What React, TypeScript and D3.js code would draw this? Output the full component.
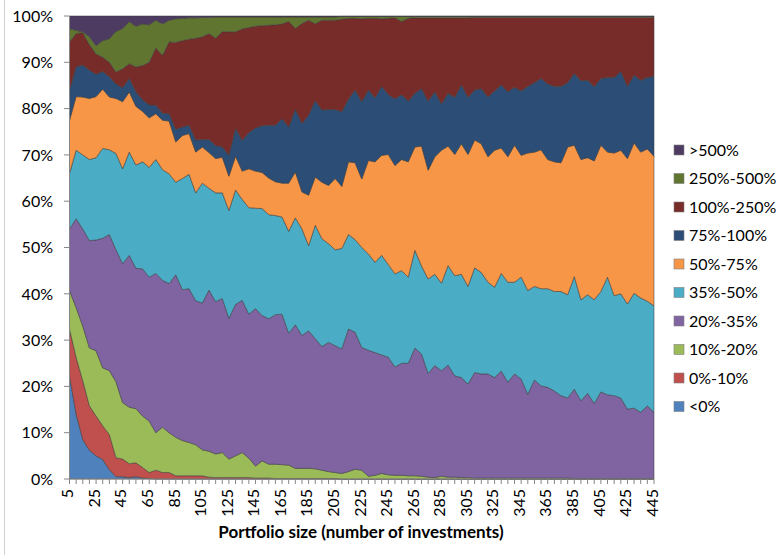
import React from 'react';
import * as d3 from 'd3';

// portfolio size categories (number of investments)
const portfolioSizes = [
  5, 10, 15, 20, 25, 30, 35, 40, 45, 50,
  55, 60, 65, 70, 75, 80, 85, 90, 95, 100,
  105, 110, 115, 120, 125, 130, 135, 140, 145, 150,
  155, 160, 165, 170, 175, 180, 185, 190, 195, 200,
  205, 210, 215, 220, 225, 230, 235, 240, 245, 250,
  255, 260, 265, 270, 275, 280, 285, 290, 295, 300,
  305, 310, 315, 320, 325, 330, 335, 340, 345, 350,
  355, 360, 365, 370, 375, 380, 385, 390, 395, 400,
  405, 410, 415, 420, 425, 430, 435, 440, 445,
];

// share of portfolios (%) per return bucket
const lt0 = [
  22.3, 14, 8.5, 6.2, 5, 4.2, 2, 0.5, 0.5, 0.3,
  0.5, 0.2, 0.1, 0, 0, 0, 0, 0, 0, 0,
  0, 0, 0, 0, 0, 0, 0, 0, 0, 0,
  0, 0, 0, 0, 0, 0, 0, 0, 0, 0,
  0, 0, 0, 0, 0, 0, 0, 0, 0, 0,
  0, 0, 0, 0, 0, 0, 0, 0, 0, 0,
  0, 0, 0, 0, 0, 0, 0, 0, 0, 0,
  0, 0, 0, 0, 0, 0, 0, 0, 0, 0,
  0, 0, 0, 0, 0, 0, 0, 0, 0,
];
const p0to10 = [
  10.1, 12.3, 12.7, 9.6, 8.6, 7.3, 7.6, 4.1, 3.8, 3.0,
  3.0, 2.3, 1.3, 1.9, 1.4, 1.4, 0.7, 0.7, 0.7, 0.7,
  0.7, 0.4, 0.3, 0.3, 0.3, 0.3, 0.3, 0.3, 0.2, 0.2,
  0.2, 0.1, 0.1, 0.1, 0.1, 0.1, 0.1, 0.1, 0.1, 0.1,
  0.1, 0, 0, 0, 0, 0, 0, 0, 0, 0,
  0, 0, 0, 0, 0, 0, 0, 0, 0, 0,
  0, 0, 0, 0, 0, 0, 0, 0, 0, 0,
  0, 0, 0, 0, 0, 0, 0, 0, 0, 0,
  0, 0, 0, 0, 0, 0, 0, 0, 0,
];
const p10to20 = [
  8.3, 10.7, 11.8, 12.5, 14.1, 12.5, 13.8, 16.4, 12.2, 12.2,
  11.7, 11.1, 11.1, 8.1, 9.8, 8.6, 8.3, 7.6, 7.2, 6.7,
  5.6, 5.6, 5.1, 5.4, 4.0, 4.7, 5.4, 4.2, 2.6, 3.7,
  3.0, 3.1, 3.0, 2.9, 2.2, 2.2, 2.2, 2.1, 1.8, 1.5,
  1.3, 1.2, 1.6, 2.1, 1.9, 0.6, 0.8, 1.2, 0.9, 0.8,
  0.8, 0.7, 0.7, 0.6, 0.4, 0.3, 0.6, 0.4, 0.4, 0.3,
  0.3, 0.2, 0.2, 0.2, 0.2, 0.2, 0.2, 0.2, 0.2, 0.2,
  0.2, 0.2, 0.2, 0.2, 0.2, 0.2, 0.1, 0.1, 0.1, 0.1,
  0.1, 0.1, 0.1, 0.1, 0.1, 0.1, 0.1, 0.1, 0.1,
];
const p20to35 = [
  13.3, 19.2, 21, 23.2, 23.9, 28, 29.4, 28.5, 30, 32.8,
  30.3, 31.8, 31.1, 34.4, 31.7, 32.2, 35.1, 32.6, 33.2, 31.1,
  31.7, 34.8, 32.9, 33.3, 30.4, 32.7, 32.9, 31.1, 34, 31.4,
  31.4, 32.3, 32.5, 28.5, 31, 28.7, 29.7, 28.1, 26.7, 27.9,
  27.4, 26.9, 30.8, 29.6, 26.5, 27.2, 26.5, 25.6, 25.4, 23.4,
  24.2, 24.3, 27.6, 26.4, 22.4, 24.2, 22.8, 24.2, 21.9, 21.6,
  20.2, 22.8, 22.5, 22.5, 21.7, 23.1, 20.7, 22.5, 21.4, 18.1,
  21.2, 19.9, 19.6, 18.8, 17.8, 17.3, 19.3, 16.8, 18.4, 16.2,
  18.7, 18.1, 17.9, 17.4, 15, 15.2, 14.3, 15.7, 14.3,
];
const p35to50 = [
  12, 14.8, 16, 17.5, 17.8, 19.4, 18.3, 20.8, 20.5, 22.3,
  22.3, 23.1, 23.7, 24.6, 23.9, 23.7, 20, 24, 24.7, 23.3,
  25.9, 22, 23.5, 22.8, 23.3, 24.7, 21.8, 23, 21.7, 23.1,
  22.5, 21.4, 21, 22, 23.1, 23, 18.4, 24.5, 23.3, 21.3,
  20.7, 21.7, 20.4, 20, 21.6, 20.8, 19.5, 21.5, 20, 20.1,
  20, 18.6, 21.1, 19, 20.4, 19.7, 18.9, 21.5, 21.6, 22.3,
  21.1, 22.6, 21.9, 19.8, 19.5, 21.1, 21.6, 19.8, 22, 22.4,
  20.2, 21, 21.3, 21.5, 22.5, 22.3, 24.3, 21.8, 21.3, 22.4,
  21.7, 25.4, 21.6, 22.5, 22.7, 24.8, 24.7, 22.6, 23,
];
const p50to75 = [
  11.5, 11.6, 12.5, 13.2, 13.2, 12.8, 11.4, 11.9, 14.5, 13,
  12.7, 10.9, 10.7, 9.9, 10.7, 11.4, 8.7, 9.3, 8.8, 8.8,
  7.8, 7.7, 7.4, 7.7, 7.4, 7.3, 6.1, 8.4, 8, 7.8,
  7.9, 7.3, 7.3, 10.4, 9.9, 8, 10.9, 10.4, 12.2, 12.6,
  15.4, 13.4, 15.7, 16.6, 14.8, 20.2, 21.7, 21.6, 23.8, 23.4,
  24, 24.9, 22.3, 25.9, 23.5, 25.4, 28.7, 25.8, 26.2, 28.2,
  28.5, 27.6, 27.8, 27.1, 29.6, 27.1, 27.1, 29.6, 26.3, 29.7,
  29, 30, 27.9, 28, 27.8, 31.9, 28.4, 30.3, 29.6, 30,
  31.6, 27, 30.8, 31, 31.4, 32.5, 31.5, 32.9, 32.3,
];
const p75to100 = [
  6.5, 6.4, 6.9, 6.1, 4.8, 3.8, 4.4, 3.1, 3, 2.9,
  3.1, 2.5, 2.8, 1.8, 1.5, 1.6, 2.7, 1.8, 1.8, 2.6,
  1.6, 2.8, 2.8, 2.2, 4.5, 6, 6.6, 7.8, 9.3, 10.1,
  11.4, 12.2, 13.9, 12.1, 13.5, 14.8, 17.3, 16.5, 15.6, 16.4,
  14.9, 16.1, 13.5, 15.7, 16.7, 15.2, 13.8, 14.9, 12.9, 14.4,
  14, 13.1, 11.6, 12.4, 14.9, 14, 10, 11.4, 12.3, 12.7,
  12.3, 10.8, 11.9, 12.9, 12.8, 13.6, 14, 12.5, 13.9, 14.4,
  15, 15.4, 16.3, 16.3, 16.5, 13.9, 15.5, 17, 16.7, 16,
  14.4, 16.1, 16.3, 17, 15.6, 14.6, 15.5, 15.4, 17.3,
];
const p100to250 = [
  10.4, 7.2, 7, 5.5, 4.4, 3.1, 3.1, 2.6, 4.1, 3.2,
  5.4, 7.4, 9.2, 12.4, 12.5, 15.5, 18.8, 18.7, 18.6, 22,
  22.2, 22.9, 23.2, 24.9, 26.7, 20.9, 24.1, 22.7, 22, 21.6,
  21.6, 21.7, 20.5, 22.8, 17.5, 21.6, 20.5, 16.6, 19.4, 19.3,
  19.3, 20, 17.5, 15.5, 17.9, 15.5, 17.2, 14.6, 16.5, 17.5,
  15.8, 17.9, 16.3, 15.3, 18, 16, 18.6, 16.3, 17.2, 14.5,
  17.2, 15.7, 15.4, 17.2, 15.9, 14.6, 16.1, 15.1, 15.9, 14.9,
  14.1, 13.2, 14.4, 14.9, 14.9, 14.1, 12.1, 13.7, 13.6, 15,
  13.2, 13, 13, 11.7, 14.9, 12.5, 13.6, 13, 12.7,
];
const p250to500 = [
  2.9, 0.7, 0.2, 1.7, 1.8, 3.6, 5.1, 8.8, 8.7, 9.1,
  8.8, 9, 8.1, 6, 6.8, 4.7, 5.1, 4.8, 4.6, 4.4,
  4.2, 3.5, 4.6, 3.2, 3.2, 3.2, 2.6, 2.3, 2, 1.9,
  1.8, 1.7, 1.5, 1, 2.5, 1.4, 0.7, 1.5, 0.7, 0.7,
  0.7, 0.6, 0.4, 0.4, 0.5, 0.4, 0.4, 0.5, 0.4, 0.3,
  1.1, 0.4, 0.3, 0.3, 0.3, 0.3, 0.3, 0.3, 0.3, 0.3,
  0.3, 0.2, 0.2, 0.2, 0.2, 0.2, 0.2, 0.2, 0.2, 0.2,
  0.2, 0.2, 0.2, 0.2, 0.2, 0.2, 0.2, 0.2, 0.2, 0.2,
  0.2, 0.2, 0.2, 0.2, 0.2, 0.2, 0.2, 0.2, 0.2,
];
const gt500 = [
  2.7, 3.1, 3.4, 4.5, 6.4, 5.3, 4.9, 3.3, 2.7, 1.2,
  2.2, 1.7, 1.9, 0.9, 1.7, 0.9, 0.6, 0.5, 0.4, 0.4,
  0.3, 0.3, 0.2, 0.2, 0.2, 0.2, 0.2, 0.2, 0.2, 0.2,
  0.2, 0.2, 0.2, 0.2, 0.2, 0.2, 0.2, 0.2, 0.2, 0.2,
  0.2, 0.1, 0.1, 0.1, 0.1, 0.1, 0.1, 0.1, 0.1, 0.1,
  0.1, 0.1, 0.1, 0.1, 0.1, 0.1, 0.1, 0.1, 0.1, 0.1,
  0.1, 0.1, 0.1, 0.1, 0.1, 0.1, 0.1, 0.1, 0.1, 0.1,
  0.1, 0.1, 0.1, 0.1, 0.1, 0.1, 0.1, 0.1, 0.1, 0.1,
  0.1, 0.1, 0.1, 0.1, 0.1, 0.1, 0.1, 0.1, 0.1,
];

const seriesNames = ['<0%', '0%-10%', '10%-20%', '20%-35%', '35%-50%', '50%-75%', '75%-100%', '100%-250%', '250%-500%', '>500%'];
const seriesValues = [lt0, p0to10, p10to20, p20to35, p35to50, p50to75, p75to100, p100to250, p250to500, gt500];
const seriesColors = ['#4F81BD', '#C0504D', '#9BBB59', '#8064A2', '#4BACC6', '#F79646', '#2C4D75', '#772C2A', '#5F7530', '#4D3B62'];

const yTicks = [0, 0.1, 0.2, 0.3, 0.4, 0.5, 0.6, 0.7, 0.8, 0.9, 1];
const xLabelStep = 20;

const W = 779;
const H = 555;
const margin = { left: 69.5, right: 654, top: 16, bottom: 479 };
const FONT = "Lato, 'Open Sans', sans-serif";
const AXIS = '#868686';

type Row = { size: number; [k: string]: number };

const App: React.FC = () => {
  const rows: Row[] = portfolioSizes.map((size, i) => {
    const r: Row = { size };
    seriesNames.forEach((name, k) => {
      r[name] = seriesValues[k][i];
    });
    return r;
  });

  const x = d3.scaleLinear().domain([portfolioSizes[0], portfolioSizes[portfolioSizes.length - 1]]).range([margin.left, margin.right]);
  const y = d3.scaleLinear().domain([0, 1]).range([margin.bottom, margin.top]);

  const stacked = d3.stack<Row>().keys(seriesNames).offset(d3.stackOffsetExpand)(rows);

  const area = d3
    .area<d3.SeriesPoint<Row>>()
    .x((d) => x(d.data.size))
    .y0((d) => y(d[0]))
    .y1((d) => y(d[1]));

  const xLabels = portfolioSizes.filter((s) => (s - portfolioSizes[0]) % xLabelStep === 0);
  const legendItems = seriesNames.map((n, k) => ({ name: n, color: seriesColors[k] })).reverse();

  return (
    <svg width={W} height={H} style={{ position: 'absolute', left: 0, top: 0, background: '#fff' }} fontFamily={FONT}>
      <line x1={4.5} x2={4.5} y1={0} y2={H} stroke="#d0d0d0" />

      {stacked.map((s, k) => (
        <path key={s.key} d={area(s) ?? ''} fill={seriesColors[k]} stroke="#3a3a3a" strokeWidth={0.7} strokeOpacity={0.75} />
      ))}

      {/* y axis */}
      <line x1={margin.left} x2={margin.left} y1={margin.top} y2={margin.bottom} stroke={AXIS} />
      {yTicks.map((t) => (
        <g key={t}>
          <line x1={margin.left - 5.5} x2={margin.left} y1={y(t)} y2={y(t)} stroke={AXIS} />
          <text x={53} y={y(t)} dy="0.36em" textAnchor="end" fontSize={16} fill="#000">
            {d3.format('.0%')(t)}
          </text>
        </g>
      ))}

      {/* x axis */}
      <line x1={margin.left} x2={margin.right} y1={margin.bottom} y2={margin.bottom} stroke={AXIS} />
      {portfolioSizes.map((s) => (
        <line key={s} x1={x(s)} x2={x(s)} y1={margin.bottom} y2={margin.bottom + 5} stroke={AXIS} />
      ))}
      {xLabels.map((s) => (
        <text
          key={s}
          transform={`translate(${x(s) - 2},${margin.bottom + 10}) rotate(-90)`}
          dy="0.36em"
          textAnchor="end"
          fontSize={16}
          fill="#000"
        >
          {s}
        </text>
      ))}
      <text x={361} y={538} textAnchor="middle" fontSize={17} fontWeight="bold" fill="#000">
        Portfolio size (number of investments)
      </text>

      {/* legend */}
      {legendItems.map((it, i) => (
        <g key={it.name} transform={`translate(674,${150 + i * 28.5})`}>
          <rect x={0} y={-5} width={10} height={10} fill={it.color} stroke="#7f7f7f" strokeWidth={0.6} />
          <text x={15} y={0} dy="0.36em" fontSize={16} fill="#000">
            {it.name}
          </text>
        </g>
      ))}
    </svg>
  );
};

export default App;
